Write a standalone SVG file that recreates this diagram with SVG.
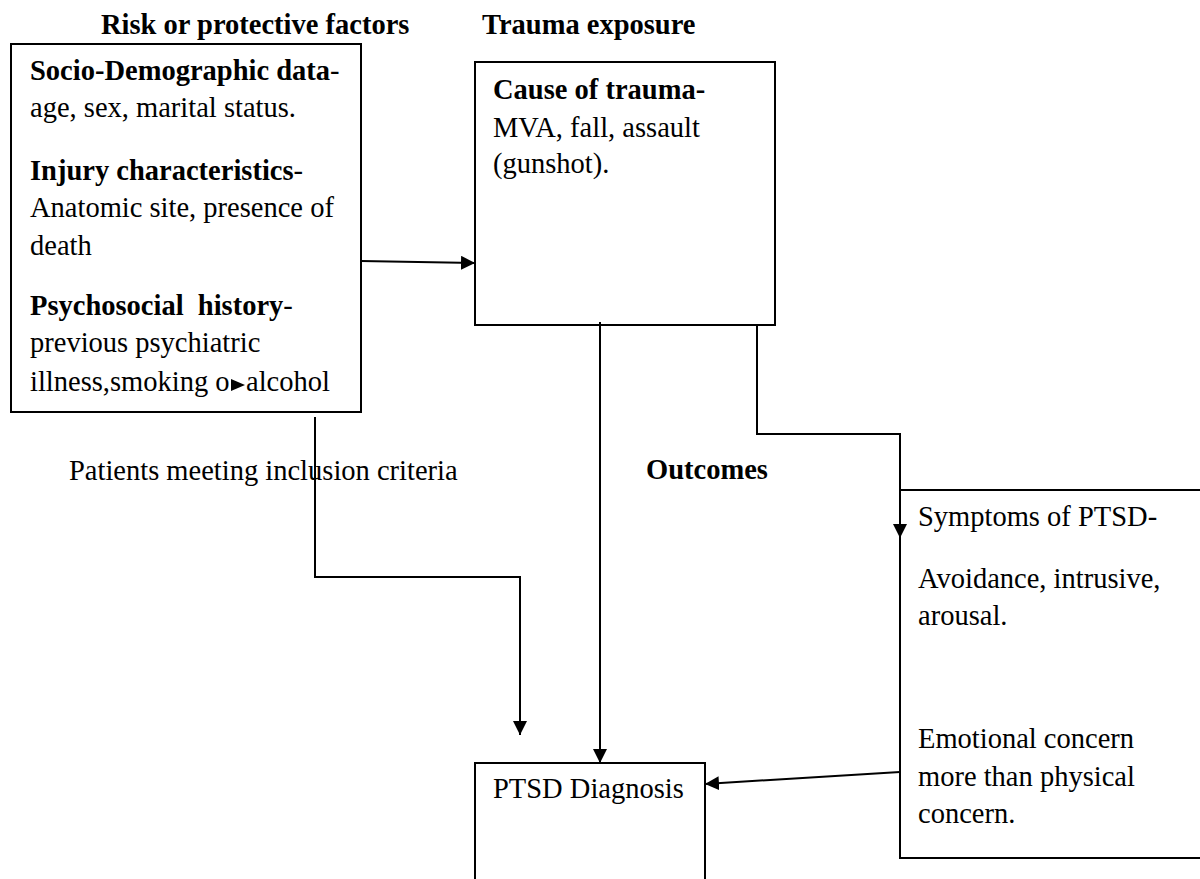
<svg xmlns="http://www.w3.org/2000/svg" width="1200" height="879" viewBox="0 0 1200 879">
<style>
text{font-family:"Liberation Serif","Times New Roman",serif;font-size:28.5px;fill:#000;white-space:pre}
.b{font-weight:bold}
.box{fill:#fff;stroke:#000;stroke-width:2}
.ln{fill:none;stroke:#000;stroke-width:2}
</style>
<defs>
<marker id="ah" markerUnits="userSpaceOnUse" markerWidth="15" markerHeight="14" refX="14" refY="7" orient="auto">
<path d="M0,0 L14,7 L0,14 z" fill="#000"/>
</marker>
</defs>
<rect width="1200" height="879" fill="#fff"/>
<g id="titles">
<text class="b" x="101" y="34">Risk or protective factors</text>
<text class="b" x="482" y="34">Trauma exposure</text>
<text x="69" y="480">Patients meeting inclusion criteria</text>
<text class="b" x="646" y="479">Outcomes</text>
</g>
<g id="node-risk">
<rect class="box" x="11" y="44" width="350" height="368"/>
<text x="30" y="80"><tspan class="b">Socio-Demographic data</tspan>-</text>
<text x="30" y="117">age, sex, marital status.</text>
<text x="30" y="180"><tspan class="b">Injury characteristics</tspan>-</text>
<text x="30" y="217">Anatomic site, presence of</text>
<text x="30" y="255">death</text>
<text x="30" y="315"><tspan class="b">Psychosocial  history</tspan>-</text>
<text x="30" y="352">previous psychiatric</text>
<text x="30" y="391">illness,smoking o<tspan x="246">alcohol</tspan></text>
</g>
<g id="node-trauma">
<rect class="box" x="475" y="62" width="300" height="263"/>
<text class="b" x="493" y="99">Cause of trauma-</text>
<text x="493" y="137">MVA, fall, assault</text>
<text x="493" y="173">(gunshot).</text>
</g>
<g id="node-symptoms">
<rect class="box" x="900" y="490" width="320" height="368"/>
<text x="918" y="526">Symptoms of PTSD-</text>
<text x="918" y="588">Avoidance, intrusive,</text>
<text x="918" y="625">arousal.</text>
<text x="918" y="748">Emotional concern</text>
<text x="918" y="786">more than physical</text>
<text x="918" y="823">concern.</text>
</g>
<g id="node-ptsd">
<rect class="box" x="475" y="763" width="230" height="130"/>
<text x="493" y="798">PTSD Diagnosis</text>
</g>
<g id="connectors">
<line class="ln" x1="361" y1="261" x2="475" y2="263" marker-end="url(#ah)"/>
<line class="ln" x1="600" y1="322" x2="600" y2="763" marker-end="url(#ah)"/>
<polyline class="ln" points="757,325 757,434 900,434 900,538" marker-end="url(#ah)"/>
<line class="ln" x1="900" y1="772" x2="705" y2="784" marker-end="url(#ah)"/>
<polyline class="ln" points="315,417 315,577 520,577 520,735" marker-end="url(#ah)"/>
<path d="M231,379 L245,385 L231,391 z" fill="#000"/>
</g>
</svg>
